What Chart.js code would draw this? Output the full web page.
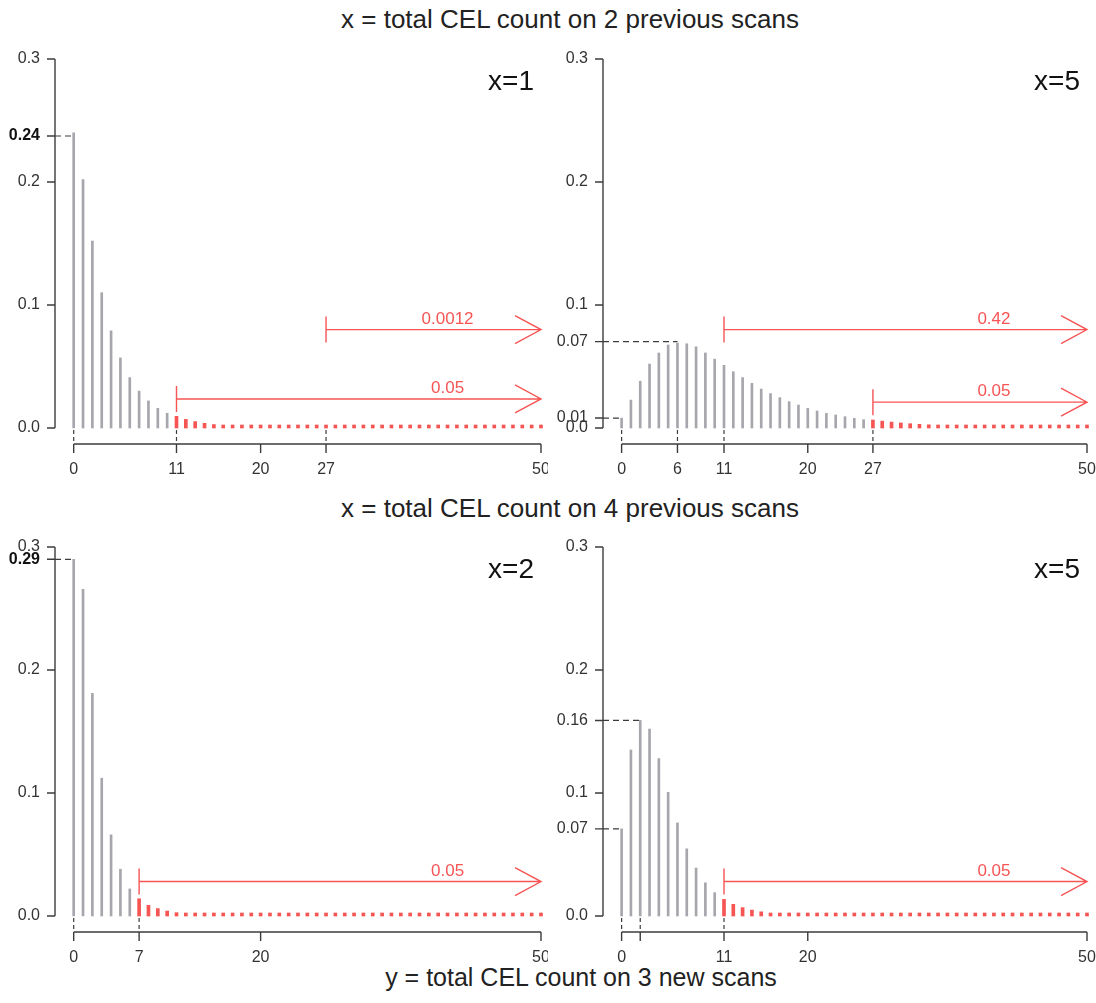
<!DOCTYPE html>
<html>
<head>
<meta charset="utf-8">
<script src="https://cdn.jsdelivr.net/npm/chart.js@4.4.1/dist/chart.umd.min.js"></script>
<style>
    body { margin: 0; background: #fff; width: 1096px; height: 1003px; position: relative; overflow: hidden; font-family: "Liberation Sans", Arial, sans-serif; }
    .titulo { position: absolute; left: 0; width: 1140px; text-align: center; font-size: 26px; color: #222; line-height: 30px; }
    .panel { position: absolute; width: 548px; height: 480px; }
</style>
</head>
<body>
<div class="titulo" style="top:4px">x = total CEL count on 2 previous scans</div>
<div class="titulo" style="top:493px">x = total CEL count on 4 previous scans</div>
<div class="titulo" style="top:962px; width:1162px; font-size:25px">y = total CEL count on 3 new scans</div>

<div class="panel" style="left:0; top:29px"><canvas id="grafico1" width="548" height="480"></canvas></div>
<div class="panel" style="left:548px; top:29px"><canvas id="grafico2" width="548" height="480"></canvas></div>
<div class="panel" style="left:0; top:517px"><canvas id="grafico3" width="548" height="480"></canvas></div>
<div class="panel" style="left:548px; top:517px"><canvas id="grafico4" width="548" height="480"></canvas></div>

<script>
// y = 0..50 (conteo en los nuevos scans)
const conteos = Array.from({length: 51}, (_, i) => i);

// probabilidades
const prob2x1 = [0.24, 0.202, 0.152, 0.11, 0.079, 0.057, 0.041, 0.03, 0.022, 0.016, 0.012,
    0.0095, 0.007, 0.0052, 0.0038, 0.0028, 0.0021, 0.0016, 0.0012, 0.0009, 0.0007,
    0.0005, 0.0004, 0.0003, 0.0002, 0.0002, 0.0001, 0.0001, 0, 0, 0,
    0, 0, 0, 0, 0, 0, 0, 0, 0, 0,
    0, 0, 0, 0, 0, 0, 0, 0, 0, 0];
const prob2x5 = [0.008, 0.0227, 0.038, 0.052, 0.061, 0.0675, 0.069, 0.0685, 0.066, 0.061, 0.056,
    0.051, 0.0458, 0.041, 0.0363, 0.0317, 0.028, 0.0247, 0.0214, 0.0187, 0.016,
    0.0138, 0.0119, 0.0106, 0.0092, 0.0079, 0.0068, 0.0065, 0.0056, 0.0048, 0.0041,
    0.0035, 0.003, 0.0026, 0.0022, 0.0019, 0.0016, 0.0013, 0.0011, 0.0009, 0.0008,
    0.0007, 0.0006, 0.0005, 0.0004, 0.0003, 0.0003, 0.0002, 0.0002, 0.0001, 0.0001];
const prob4x2 = [0.29, 0.2656, 0.181, 0.112, 0.066, 0.038, 0.022, 0.014, 0.0087, 0.006, 0.004,
    0.0027, 0.0018, 0.0012, 0.0008, 0.0005, 0.0003, 0.0002, 0.0001, 0, 0,
    0, 0, 0, 0, 0, 0, 0, 0, 0, 0,
    0, 0, 0, 0, 0, 0, 0, 0, 0, 0,
    0, 0, 0, 0, 0, 0, 0, 0, 0, 0];
const prob4x5 = [0.0708, 0.135, 0.159, 0.152, 0.128, 0.1005, 0.0757, 0.0546, 0.039, 0.027, 0.019,
    0.0135, 0.0095, 0.0068, 0.0048, 0.0034, 0.0024, 0.0017, 0.0012, 0.0008, 0.0006,
    0.0004, 0.0003, 0.0002, 0.0001, 0, 0, 0, 0, 0, 0,
    0, 0, 0, 0, 0, 0, 0, 0, 0, 0,
    0, 0, 0, 0, 0, 0, 0, 0, 0, 0];

// cortes del 5% (inicio de la cola roja)
const cortes = [11, 27, 7, 11];
const etiquetasPanel = ['x=1', 'x=5', 'x=2', 'x=5'];

const ticksY = [0, 0.1, 0.2, 0.3];
const ticksX1 = [0, 11, 20, 27, 50];
const ticksX2 = [0, 6, 11, 20, 27, 50];
const ticksX3 = [0, 7, 20, 50];
const ticksX4 = [0, 2, 11, 20, 50];
const etiquetasX4 = ['0', '', '11', '20', '50'];

const guionesX1 = [0, 11, 27];
const guionesX2 = [0, 6, 11, 27];
const guionesX3 = [0, 7];
const guionesX4 = [0, 2, 11];

// valores marcados en el eje y: [y, valor, texto]
const marcas1 = [[0, 0.2374, '0.24']];
const marcas2 = [[6, 0.0702, '0.07'], [0, 0.0081, '0.01']];
const marcas3 = [[0, 0.29, '0.29']];
const marcas4 = [[2, 0.159, '0.16'], [0, 0.0708, '0.07']];

// flechas: [desde, altura, texto]
const flechas1 = [[27, 0.08, '0.0012'], [11, 0.0236, '0.05']];
const flechas2 = [[11, 0.08, '0.42'], [27, 0.021, '0.05']];
const flechas3 = [[7, 0.028, '0.05']];
const flechas4 = [[11, 0.028, '0.05']];

const GRIS = '#a6a7ac';
const ROJO = 'rgb(247,84,84)';
const EJE = '#3c3c3c';
const FUENTE = '"Liberation Sans", Arial, sans-serif';

const ejesR = {
    id: 'ejesR',
    afterDraw(chart, args, o) {
        const {ctx, chartArea, scales: {x, y}} = chart;
        const ejeX = x.getPixelForValue(-2);
        const base = y.getPixelForValue(0);
        const ejeY = base + 16;

        ctx.save();
        ctx.lineWidth = 1.4;
        ctx.strokeStyle = EJE;

        // eje y
        ctx.beginPath();
        ctx.moveTo(ejeX, y.getPixelForValue(0));
        ctx.lineTo(ejeX, y.getPixelForValue(0.3));
        ticksY.concat(o.marcas.map(m => m[1])).forEach(v => {
            const py = y.getPixelForValue(v);
            ctx.moveTo(ejeX - 8, py);
            ctx.lineTo(ejeX, py);
        });
        // eje x
        ctx.moveTo(x.getPixelForValue(0), ejeY);
        ctx.lineTo(x.getPixelForValue(50), ejeY);
        o.ticksX.forEach(v => {
            const px = x.getPixelForValue(v);
            ctx.moveTo(px, ejeY);
            ctx.lineTo(px, ejeY + 9);
        });
        ctx.stroke();

        // lineas discontinuas
        ctx.lineWidth = 1.2;
        ctx.setLineDash([6, 4]);
        ctx.beginPath();
        o.marcas.forEach(m => {
            const py = y.getPixelForValue(m[1]);
            ctx.moveTo(ejeX, py);
            ctx.lineTo(x.getPixelForValue(m[0]), py);
        });
        ctx.stroke();
        ctx.setLineDash([4, 3]);
        ctx.beginPath();
        o.guiones.forEach(v => {
            const px = x.getPixelForValue(v);
            ctx.moveTo(px, base + 2);
            ctx.lineTo(px, ejeY);
        });
        ctx.stroke();
        ctx.setLineDash([]);

        // textos de los ejes
        ctx.fillStyle = '#333';
        ctx.font = '16px ' + FUENTE;
        ctx.textAlign = 'right';
        ctx.textBaseline = 'middle';
        ticksY.forEach(v => ctx.fillText(v.toFixed(1), ejeX - 15, y.getPixelForValue(v)));
        o.marcas.forEach(m => {
            ctx.font = (o.negrita ? 'bold ' : '') + '16px ' + FUENTE;
            ctx.fillStyle = o.negrita ? '#111' : '#333';
            ctx.fillText(m[2], ejeX - 15, y.getPixelForValue(m[1]));
        });
        ctx.font = '16px ' + FUENTE;
        ctx.fillStyle = '#333';
        ctx.textAlign = 'center';
        ctx.textBaseline = 'top';
        o.ticksX.forEach((v, i) => {
            const texto = o.etiquetasX ? o.etiquetasX[i] : String(v);
            ctx.fillText(texto, x.getPixelForValue(v), ejeY + 18);
        });

        // flechas rojas
        ctx.strokeStyle = ROJO;
        ctx.fillStyle = ROJO;
        ctx.lineWidth = 1.4;
        ctx.font = '17px ' + FUENTE;
        ctx.textBaseline = 'alphabetic';
        const fin = x.getPixelForValue(50);
        o.flechas.forEach(f => {
            const ini = x.getPixelForValue(f[0]);
            const py = y.getPixelForValue(f[1]);
            ctx.beginPath();
            ctx.moveTo(ini, py - 13);
            ctx.lineTo(ini, py + 13);
            ctx.moveTo(ini, py);
            ctx.lineTo(fin, py);
            ctx.moveTo(fin - 26, py - 14);
            ctx.lineTo(fin, py);
            ctx.lineTo(fin - 26, py + 14);
            ctx.stroke();
            ctx.fillText(f[2], x.getPixelForValue(40), py - 6);
        });

        // etiqueta del panel
        ctx.fillStyle = '#111';
        ctx.font = '28px ' + FUENTE;
        ctx.textAlign = 'right';
        ctx.textBaseline = 'middle';
        ctx.fillText(o.etiqueta, chartArea.right - 7, y.getPixelForValue(0.3) + 23);
        ctx.restore();
    }
};

function crearPanel(idCanvas, valores, corte, config, padDerecho) {
    const cuerpo = conteos.slice(0, corte).map(i => ({x: i, y: valores[i]}));
    const cola = conteos.slice(corte).map(i => ({x: i, y: valores[i]}));

    new Chart(document.querySelector(idCanvas), {
        type: 'bar',
        data: {
            datasets: [
                {data: cuerpo, backgroundColor: GRIS, barThickness: 2, grouped: false, clip: false},
                {data: cola, backgroundColor: ROJO, barThickness: 3, minBarLength: 3, grouped: false, clip: false}
            ]
        },
        options: {
            responsive: false,
            animation: false,
            layout: {padding: {left: 55, right: padDerecho, top: 30, bottom: 81}},
            scales: {
                x: {type: 'linear', min: -2, max: 50, offset: false, display: false},
                y: {min: 0, max: 0.3, display: false}
            },
            plugins: {
                legend: {display: false},
                tooltip: {enabled: false},
                ejesR: config
            }
        },
        plugins: [ejesR]
    });
}

window.addEventListener('load', () => {
    crearPanel('#grafico1', prob2x1, cortes[0],
        {ticksX: ticksX1, guiones: guionesX1, marcas: marcas1, flechas: flechas1, etiqueta: etiquetasPanel[0], negrita: true}, 7);
    crearPanel('#grafico2', prob2x5, cortes[1],
        {ticksX: ticksX2, guiones: guionesX2, marcas: marcas2, flechas: flechas2, etiqueta: etiquetasPanel[1]}, 9);
    crearPanel('#grafico3', prob4x2, cortes[2],
        {ticksX: ticksX3, guiones: guionesX3, marcas: marcas3, flechas: flechas3, etiqueta: etiquetasPanel[2], negrita: true}, 7);
    crearPanel('#grafico4', prob4x5, cortes[3],
        {ticksX: ticksX4, etiquetasX: etiquetasX4, guiones: guionesX4, marcas: marcas4, flechas: flechas4, etiqueta: etiquetasPanel[3]}, 9);
});
</script>
</body>
</html>
